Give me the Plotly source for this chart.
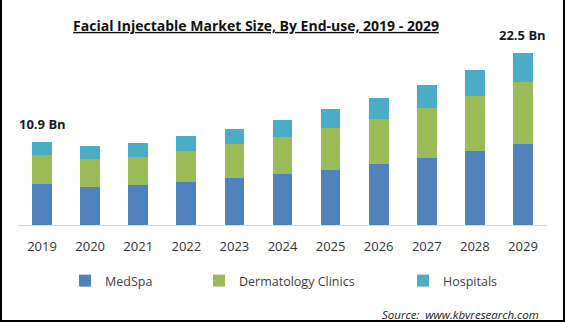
import plotly.graph_objects as go

years = ["2019", "2020", "2021", "2022", "2023", "2024", "2025", "2026", "2027", "2028", "2029"]
medspa = [5.4, 5.0, 5.2, 5.6, 6.2, 6.7, 7.2, 8.0, 8.8, 9.7, 10.6]
dermatology = [3.8, 3.7, 3.7, 4.1, 4.4, 4.9, 5.5, 5.9, 6.5, 7.2, 8.1]
hospitals = [1.7, 1.6, 1.8, 2.0, 2.0, 2.2, 2.5, 2.8, 3.1, 3.4, 3.8]

series = [
    ("MedSpa", medspa, "#4f81bd", "legend"),
    ("Dermatology Clinics", dermatology, "#9bbb59", "legend2"),
    ("Hospitals", hospitals, "#4bacc6", "legend3"),
]

W, H = 565, 322
L, R, T, B = 18, 18, 40, 97
plot_w, plot_h = W - L - R, H - T - B

def px_x(px):
    return (px - L) / plot_w

def px_y(py):
    return (H - B - py) / plot_h

fig = go.Figure()
for name, vals, color, leg in series:
    fig.add_trace(go.Bar(
        x=years, y=vals, name=name, marker_color=color,
        marker_line_width=0, legend=leg,
    ))

totals = [round(a + b + c, 1) for a, b, c in zip(medspa, dermatology, hospitals)]
for i in (0, len(years) - 1):
    # category index keeps the label over its own bar
    fig.add_annotation(
        x=i, y=totals[i], text=f"<b>{totals[i]} Bn</b>",
        showarrow=False, yanchor="bottom", yshift=7,
        font=dict(family="Open Sans", size=13, color="#1a1a1a"),
    )

legend_font = dict(family="Open Sans", size=12.5, color="#404040")
legend_common = dict(orientation="h", yanchor="middle", xanchor="left",
                     font=legend_font, bgcolor="rgba(0,0,0,0)", borderwidth=0)

fig.update_layout(
    width=W, height=H,
    margin=dict(l=L, r=R, t=T, b=B),
    paper_bgcolor="white", plot_bgcolor="white",
    barmode="stack", bargap=0.59,
    title=dict(
        text="<b><u>Facial Injectable Market Size, By End-use, 2019 - 2029</u></b>",
        x=256 / W, xanchor="center",
        y=1 - 26 / H, yanchor="middle",
        font=dict(family="Open Sans", size=14, color="#111111"),
    ),
    xaxis=dict(
        type="category", range=[-0.5, len(years) - 0.5],
        showgrid=False, showline=True, linecolor="#d9d9d9", linewidth=1,
        ticks="outside", ticklen=9, tickcolor="rgba(0,0,0,0)",
        tickfont=dict(family="Open Sans", size=13, color="#333333"),
    ),
    yaxis=dict(visible=False, range=[0, 24.25], showgrid=False),
    legend=dict(x=px_x(65), y=px_y(281), **legend_common),
    legend2=dict(x=px_x(199), y=px_y(281), **legend_common),
    legend3=dict(x=px_x(403), y=px_y(281), **legend_common),
    showlegend=True,
)

fig.add_annotation(
    xref="paper", yref="paper", x=px_x(541), y=px_y(314),
    xanchor="right", yanchor="middle", showarrow=False,
    text="<i>Source:  www.kbvresearch.com</i>",
    font=dict(family="Open Sans", size=11.5, color="#222222"),
)

# thin dark frame on the left, right and bottom edges
frame = dict(type="line", xref="paper", yref="paper",
             line=dict(color="black", width=2), layer="above")
fig.add_shape(x0=px_x(1), x1=px_x(1), y0=px_y(0), y1=px_y(321), **frame)
fig.add_shape(x0=px_x(564), x1=px_x(564), y0=px_y(0), y1=px_y(321), **frame)
fig.add_shape(x0=px_x(0), x1=px_x(565), y0=px_y(321), y1=px_y(321), **frame)

fig.write_html("out.html")
